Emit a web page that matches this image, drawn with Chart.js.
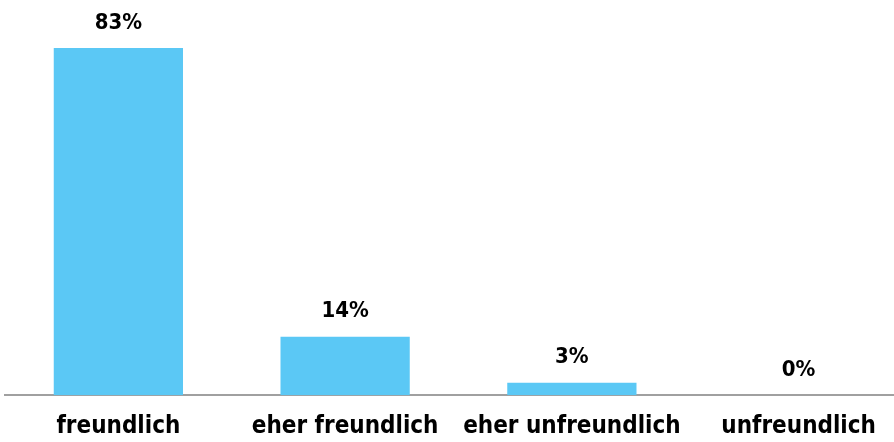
<!DOCTYPE html>
<html lang="de">
<head>
    <meta charset="UTF-8">
    <title>Freundlichkeit</title>
    <script src="https://cdn.jsdelivr.net/npm/chart.js"></script>
    <style>
        html, body {
            margin: 0;
            padding: 0;
            overflow: hidden;
            background: #fff;
        }
        .wrap {
            position: relative;
            width: 912px;
            height: 461px;
        }
    </style>
</head>
<body>
    <div class="wrap">
        <canvas id="chart"></canvas>
    </div>

    <script>
        const categories = ['freundlich', 'eher freundlich', 'eher unfreundlich', 'unfreundlich'];
        const shares = [83, 14, 3, 0];
        const valueLabels = ['83%', '14%', '3%', '0%'];

        const fontFamily = '"DejaVu Sans Condensed", "DejaVu Sans", sans-serif';

        // value labels above each bar
        const barLabels = {
            id: 'barLabels',
            afterDatasetsDraw(chart) {
                const ctx = chart.ctx;
                const meta = chart.getDatasetMeta(0);
                ctx.save();
                ctx.fillStyle = '#000';
                ctx.font = 'bold 22px ' + fontFamily;
                ctx.textAlign = 'center';
                ctx.textBaseline = 'middle';
                meta.data.forEach((bar, i) => {
                    ctx.fillText(valueLabels[i], bar.x, bar.y - 25);
                });
                ctx.restore();
            }
        };

        new Chart(document.getElementById('chart'), {
            type: 'bar',
            data: {
                labels: categories,
                datasets: [{
                    data: shares,
                    backgroundColor: '#5bc8f5',
                    borderWidth: 0,
                    barPercentage: 0.57,
                    categoryPercentage: 1
                }]
            },
            options: {
                responsive: true,
                maintainAspectRatio: false,
                animation: false,
                layout: {
                    padding: { top: 0, bottom: 3, left: 5, right: 0 }
                },
                plugins: {
                    legend: { display: false },
                    tooltip: { enabled: false }
                },
                scales: {
                    x: {
                        grid: { display: false, drawTicks: false },
                        border: { display: true, color: '#a0a0a0', width: 2 },
                        ticks: {
                            color: '#000',
                            padding: 17,
                            maxRotation: 0,
                            minRotation: 0,
                            autoSkip: false,
                            font: { family: fontFamily, size: 24, weight: 'bold' }
                        }
                    },
                    y: {
                        display: false,
                        min: 0,
                        max: 94.5
                    }
                }
            },
            plugins: [barLabels]
        });
    </script>
</body>
</html>
